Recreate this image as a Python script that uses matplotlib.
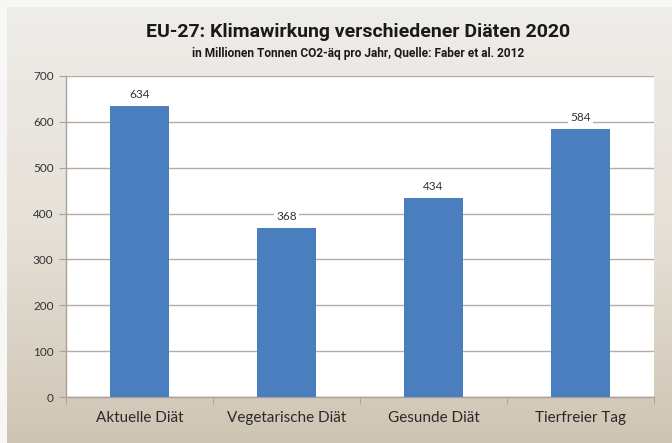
import matplotlib.pyplot as plt
import numpy as np
from matplotlib.colors import LinearSegmentedColormap

# Data
categories = ['Aktuelle Diät', 'Vegetarische Diät', 'Gesunde Diät', 'Tierfreier Tag']
values = [634, 368, 434, 584]
yticks = [0, 100, 200, 300, 400, 500, 600, 700]

title = 'EU-27: Klimawirkung verschiedener Diäten 2020'
subtitle = 'in Millionen Tonnen CO2-äq pro Jahr, Quelle: Faber et al. 2012'

W, H = 672, 443
fig = plt.figure(figsize=(W / 100, H / 100), dpi=100)
fig.patch.set_facecolor('#f7f7f5')

# beige panel with vertical gradient
bg = fig.add_axes([7 / W, 0, 1 - 7 / W, 1 - 7 / H])
bg.set_axis_off()
cmap = LinearSegmentedColormap.from_list('panel', ['#efede9', '#e6e1d8', '#cfc5b4'])
grad = np.linspace(0, 1, 256).reshape(-1, 1)
bg.imshow(grad, aspect='auto', cmap=cmap, extent=[0, 1, 0, 1], origin='upper')
bg.set_xlim(0, 1)
bg.set_ylim(0, 1)

narrow = ['Roboto', 'DejaVu Sans']
fig.text(358 / W, 1 - 32 / H, title, ha='center', va='center',
         fontsize=14, fontweight='bold', family=narrow, color='#1a1a1a')
fig.text(358 / W, 1 - 54 / H, subtitle, ha='center', va='center',
         fontsize=8.6, fontweight='bold', family=narrow, color='#1a1a1a')

# plot area
ax = fig.add_axes([66 / W, 46 / H, 588 / W, 321 / H])
ax.set_facecolor('white')
x = np.arange(len(categories))
ax.bar(x, values, width=0.395, color='#4a7ebf', zorder=3)

ax.set_xlim(-0.5, len(categories) - 0.5)
ax.set_ylim(0, 700)
ax.set_yticks(yticks)
ax.set_yticklabels([str(t) for t in yticks], fontsize=8.5, color='#333333', family='Lato')
ax.yaxis.grid(True, color='#b8aaa4', linewidth=1.0, zorder=0)

ax.set_xticks(x)
ax.set_xticklabels(categories, fontsize=11, color='#2a2a2a', family='Lato')
ax.set_xticks(np.arange(len(categories) + 1) - 0.5, minor=True)
ax.tick_params(axis='x', which='major', length=0, pad=10)
ax.tick_params(axis='x', which='minor', length=5, color='#a8a09a')
ax.tick_params(axis='y', length=5, color='#a8a09a', pad=4)

for side in ['top', 'right']:
    ax.spines[side].set_visible(False)
for side in ['left', 'bottom']:
    ax.spines[side].set_color('#a8a09a')
    ax.spines[side].set_linewidth(1.0)

for xi, v in zip(x, values):
    ax.text(xi, v + 14, str(v), ha='center', va='bottom', fontsize=8.5,
            color='#333333', family='Lato', zorder=4,
            bbox=dict(facecolor='white', edgecolor='none', pad=1.5))

fig.savefig('out.png', dpi=100, facecolor=fig.get_facecolor())
